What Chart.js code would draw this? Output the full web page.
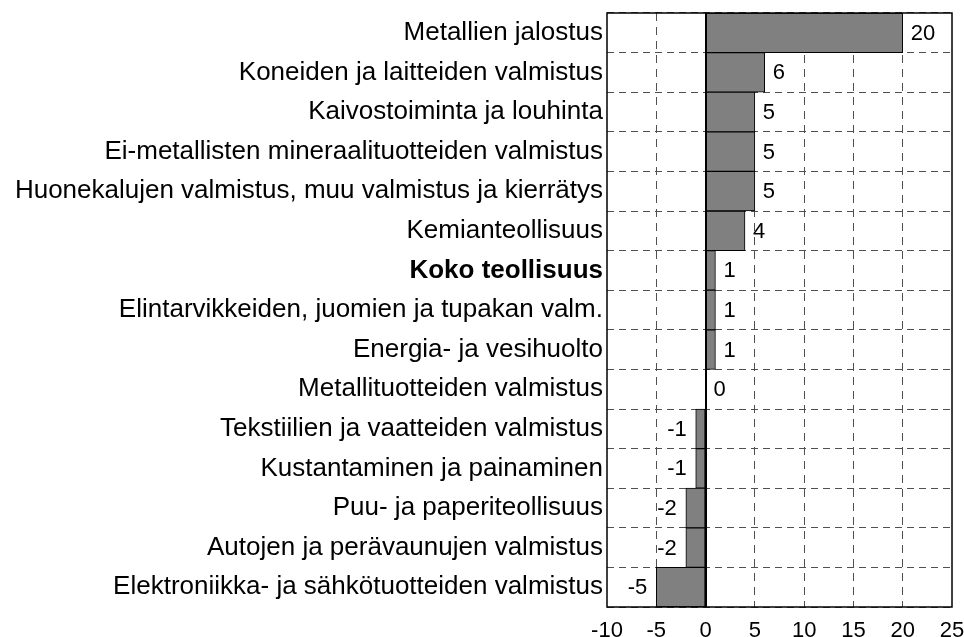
<!DOCTYPE html>
<html><head><meta charset="utf-8">
<script src="https://cdn.jsdelivr.net/npm/chart.js@4.4.0/dist/chart.umd.min.js"></script>
<style>html,body{margin:0;padding:0;background:#fff}#wrap{width:964px;height:637px;position:relative}</style>
</head><body><div id="wrap"><canvas id="c"></canvas></div>
<script>
const categories = [
  'Metallien jalostus',
  'Koneiden ja laitteiden valmistus',
  'Kaivostoiminta ja louhinta',
  'Ei-metallisten mineraalituotteiden valmistus',
  'Huonekalujen valmistus, muu valmistus ja kierrätys',
  'Kemianteollisuus',
  'Koko teollisuus',
  'Elintarvikkeiden, juomien ja tupakan valm.',
  'Energia- ja vesihuolto',
  'Metallituotteiden valmistus',
  'Tekstiilien ja vaatteiden valmistus',
  'Kustantaminen ja painaminen',
  'Puu- ja paperiteollisuus',
  'Autojen ja perävaunujen valmistus',
  'Elektroniikka- ja sähkötuotteiden valmistus'
];
const values = [20, 6, 5, 5, 5, 4, 1, 1, 1, 0, -1, -1, -2, -2, -5];
const xMin = -10, xMax = 25, xStep = 5;
const boldCategory = 'Koko teollisuus';

const FONT = '"Liberation Sans", Arial, sans-serif';
const GRID = '#505050';

const overlay = {
  id: 'overlay',
  afterDatasetsDraw(chart) {
    const {ctx, chartArea: a, scales: {x, y}} = chart;
    ctx.save();
    const x0 = Math.round(x.getPixelForValue(0));
    ctx.strokeStyle = '#000';
    ctx.lineWidth = 2;
    ctx.beginPath(); ctx.moveTo(x0, a.top); ctx.lineTo(x0, a.bottom); ctx.stroke();
    ctx.lineWidth = 1.5;
    ctx.strokeRect(a.left, a.top, a.right - a.left, a.bottom - a.top);
    ctx.font = '22px ' + FONT;
    ctx.fillStyle = '#000';
    ctx.textBaseline = 'middle';
    values.forEach((v, i) => {
      const px = x.getPixelForValue(v), py = y.getPixelForValue(i);
      if (v >= 0) { ctx.textAlign = 'left'; ctx.fillText(String(v), px + 8, py + 1); }
      else { ctx.textAlign = 'right'; ctx.fillText(String(v), px - 9, py + 1); }
    });
    ctx.restore();
  }
};

new Chart(document.getElementById('c'), {
  type: 'bar',
  data: {
    labels: categories,
    datasets: [{
      data: values,
      backgroundColor: '#808080',
      borderColor: '#000',
      borderWidth: 1,
      borderSkipped: false,
      categoryPercentage: 1,
      barPercentage: 1
    }]
  },
  options: {
    indexAxis: 'y',
    responsive: true,
    maintainAspectRatio: false,
    animation: false,
    layout: {padding: {top: 13, right: 12, left: 0, bottom: 0}},
    plugins: {legend: {display: false}, tooltip: {enabled: false}},
    scales: {
      x: {
        min: xMin, max: xMax,
        ticks: {stepSize: xStep, color: '#000', font: {family: FONT, size: 22}, padding: 11, maxRotation: 0},
        grid: {
          drawTicks: false,
          color: (c) => (c.tick && (c.tick.value === 0 || c.tick.value === xMin || c.tick.value === xMax)) ? 'rgba(0,0,0,0)' : GRID,
          lineWidth: 1
        },
        border: {display: false, dash: [8, 6]},
        afterFit: (s) => { s.height = 30; s.paddingLeft = 0; s.paddingRight = 0; }
      },
      y: {
        ticks: {
          color: '#000',
          padding: 4,
          autoSkip: false,
          font: (c) => ({family: FONT, size: 26, weight: (categories[c.index] === boldCategory) ? 'bold' : 'normal'})
        },
        grid: {drawTicks: false, color: GRID, lineWidth: 1, offset: true},
        border: {display: false, dash: [7, 5]},
        afterFit: (s) => { s.width = 607; s.paddingTop = 0; s.paddingBottom = 0; }
      }
    }
  },
  plugins: [overlay]
});
</script>
</body></html>
